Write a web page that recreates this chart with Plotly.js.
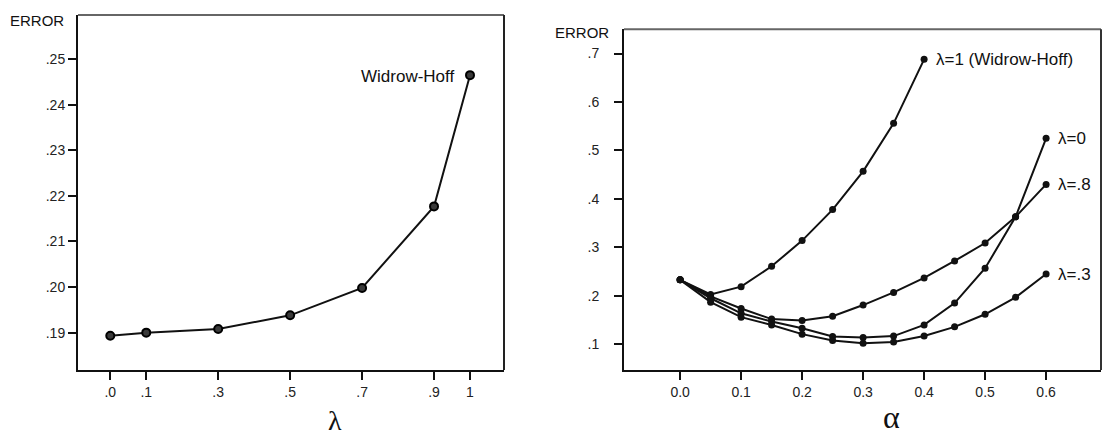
<!DOCTYPE html>
<html>
<head>
<meta charset="utf-8">
<script src="https://cdn.plot.ly/plotly-3.0.1.min.js"></script>
<style>html,body{margin:0;padding:0;background:#fff;}#chart{width:1103px;height:439px;}</style>
</head>
<body>
<div id="chart"></div>
<script>
// ---- Data ----
const lambdaVals = [0, 0.1, 0.3, 0.5, 0.7, 0.9, 1];
const errorByLambda = [0.1893, 0.1900, 0.1908, 0.1938, 0.1998, 0.2177, 0.2465];
const lambdaTickVals = [0, 0.1, 0.3, 0.5, 0.7, 0.9, 1];
const lambdaTickText = ['.0', '.1', '.3', '.5', '.7', '.9', '1'];
const leftYTickVals = [0.19, 0.20, 0.21, 0.22, 0.23, 0.24, 0.25];
const leftYTickText = ['.19', '.20', '.21', '.22', '.23', '.24', '.25'];

const alphaVals = [0, 0.05, 0.1, 0.15, 0.2, 0.25, 0.3, 0.35, 0.4, 0.45, 0.5, 0.55, 0.6];
const errLambda1 = [0.233, 0.203, 0.219, 0.261, 0.314, 0.378, 0.457, 0.556, 0.688];
const errLambda08 = [0.233, 0.199, 0.174, 0.152, 0.149, 0.158, 0.181, 0.207, 0.237, 0.272, 0.309, 0.363, 0.430];
const errLambda0 = [0.233, 0.195, 0.164, 0.147, 0.133, 0.116, 0.114, 0.117, 0.140, 0.185, 0.257, 0.363, 0.525];
const errLambda03 = [0.233, 0.187, 0.156, 0.140, 0.121, 0.108, 0.102, 0.105, 0.117, 0.136, 0.162, 0.197, 0.245];
const seriesNames = ['λ=1 (Widrow-Hoff)', 'λ=.8', 'λ=0', 'λ=.3'];
const alphaTickVals = [0, 0.1, 0.2, 0.3, 0.4, 0.5, 0.6];
const alphaTickText = ['0.0', '0.1', '0.2', '0.3', '0.4', '0.5', '0.6'];
const rightYTickVals = [0.1, 0.2, 0.3, 0.4, 0.5, 0.6, 0.7];
const rightYTickText = ['.1', '.2', '.3', '.4', '.5', '.6', '.7'];

// ---- Layout helpers (pixel -> paper) ----
const W = 1103, H = 439;
const px = x => x / W;
const py = y => 1 - y / H;

const lineStyle = {color: '#111', width: 2};
const tickFont = {family: 'Liberation Sans, Arial, sans-serif', size: 14, color: '#222'};
const labelFont = {family: 'Liberation Sans, Arial, sans-serif', size: 17, color: '#111'};

const rightSeries = [errLambda1, errLambda08, errLambda0, errLambda03];

const traces = [{
  x: lambdaVals, y: errorByLambda, xaxis: 'x', yaxis: 'y',
  mode: 'lines+markers', type: 'scatter',
  line: lineStyle,
  marker: {symbol: 'circle', size: 8, color: '#3a3a3a', line: {color: '#000', width: 2}},
  hoverinfo: 'none'
}];
rightSeries.forEach((s, i) => {
  traces.push({
    x: alphaVals.slice(0, s.length), y: s, xaxis: 'x2', yaxis: 'y2', name: seriesNames[i],
    mode: 'lines+markers', type: 'scatter',
    line: lineStyle,
    marker: {symbol: 'circle', size: 7, color: '#111'},
    hoverinfo: 'none'
  });
});

const axisCommon = {
  showgrid: false, zeroline: false, showline: true, linecolor: '#111', linewidth: 2,
  ticks: 'outside', ticklen: 8, tickwidth: 2, tickcolor: '#111', tickfont: tickFont,
  fixedrange: true
};

const annotations = [
  {xref: 'x', yref: 'y', x: 1, y: errorByLambda[errorByLambda.length - 1], text: 'Widrow-Hoff',
   xanchor: 'right', yanchor: 'middle', xshift: -14, yshift: -1, showarrow: false, font: labelFont},
  {xref: 'paper', yref: 'paper', x: px(66), y: py(21), text: 'ERROR', xanchor: 'right', yanchor: 'middle',
   showarrow: false, font: {family: 'Liberation Sans, Arial, sans-serif', size: 15, color: '#111'}},
  {xref: 'paper', yref: 'paper', x: px(611), y: py(32), text: 'ERROR', xanchor: 'right', yanchor: 'middle',
   showarrow: false, font: {family: 'Liberation Sans, Arial, sans-serif', size: 15, color: '#111'}},
  {xref: 'paper', yref: 'paper', x: px(335), y: py(420), text: 'λ', xanchor: 'center', yanchor: 'middle',
   showarrow: false, font: {family: 'Liberation Serif, DejaVu Serif, serif', size: 28, color: '#111'}},
  {xref: 'paper', yref: 'paper', x: px(891), y: py(417), text: 'α', xanchor: 'center', yanchor: 'middle',
   showarrow: false, font: {family: 'Liberation Serif, DejaVu Serif, serif', size: 32, color: '#111'}}
];
rightSeries.forEach((s, i) => {
  annotations.push({
    xref: 'x2', yref: 'y2', x: alphaVals[s.length - 1], y: s[s.length - 1], text: seriesNames[i],
    xanchor: 'left', yanchor: 'middle', xshift: 10, showarrow: false, font: labelFont
  });
});

const shapes = [
  // top and right frame edges
  {type: 'line', xref: 'x domain', yref: 'y domain', x0: 0, x1: 1, y0: 1, y1: 1, line: {color: '#666', width: 2}},
  {type: 'line', xref: 'x domain', yref: 'y domain', x0: 1, x1: 1, y0: 0, y1: 1, line: {color: '#222', width: 2}},
  {type: 'line', xref: 'x2 domain', yref: 'y2 domain', x0: 0, x1: 1, y0: 1, y1: 1, line: {color: '#666', width: 2}},
  {type: 'line', xref: 'x2 domain', yref: 'y2 domain', x0: 1, x1: 1, y0: 0, y1: 1, line: {color: '#333', width: 2}}
];

const layout = {
  width: W, height: H,
  margin: {l: 0, r: 0, t: 0, b: 0},
  paper_bgcolor: '#fff', plot_bgcolor: '#fff',
  showlegend: false,
  xaxis: Object.assign({}, axisCommon, {domain: [px(78), px(504)], range: [-0.0897, 1.0945],
    tickvals: lambdaTickVals, ticktext: lambdaTickText, anchor: 'y'}),
  yaxis: Object.assign({}, axisCommon, {domain: [py(370), py(15)], range: [0.1818, 0.2597],
    tickvals: leftYTickVals, ticktext: leftYTickText, anchor: 'x'}),
  xaxis2: Object.assign({}, axisCommon, {domain: [px(624), px(1101)], range: [-0.092, 0.690],
    tickvals: alphaTickVals, ticktext: alphaTickText, anchor: 'y2'}),
  yaxis2: Object.assign({}, axisCommon, {domain: [py(370), py(29.3)], range: [0.047, 0.750],
    tickvals: rightYTickVals, ticktext: rightYTickText, anchor: 'x2', ticklabelstandoff: 12}),
  annotations: annotations,
  shapes: shapes
};

Plotly.newPlot('chart', traces, layout, {displayModeBar: false, staticPlot: true});
</script>
</body>
</html>
